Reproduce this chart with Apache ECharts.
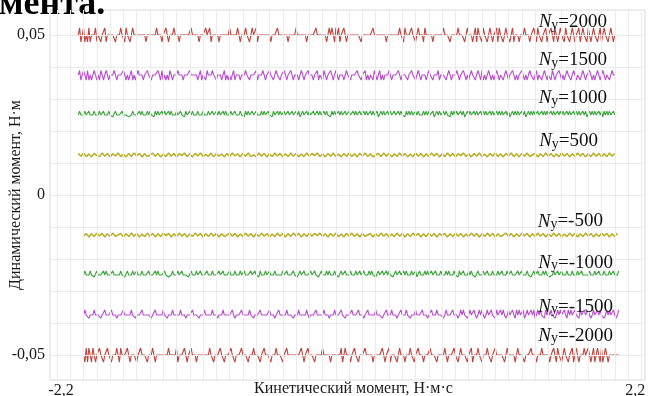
<!DOCTYPE html>
<html>
<head>
<meta charset="utf-8">
<script src="https://cdn.jsdelivr.net/npm/echarts@6/dist/echarts.min.js"></script>
<style>
  html, body { margin: 0; padding: 0; background: #fff; }
  #chart { width: 648px; height: 396px; }
</style>
</head>
<body>
<div id="chart"></div>
<script>
// ---- data ----------------------------------------------------------------
// Lateral load cases N_y and the mean dynamic moment each one settles at (Н·м)
const nyValues = [2000, 1500, 1000, 500, -500, -1000, -1500, -2000];
const meanMoment = [0.05, 0.0375, 0.025, 0.0125, -0.0125, -0.025, -0.0375, -0.05];

// Kinetic moment sampling (Н·м·с): first sample of the positive / negative runs
const kineticStartPos = -2.04;
const kineticStartNeg = -2.0;
// sample step of the pulsed runs (±1000…±2000) and of the ±500 runs
const kineticStepPulse = 0.01;
const kineticStepWave = 0.02;

// Fluctuation of the dynamic moment about its mean, in 1e-4 Н·м
const devP2000 = [
  0,22,-22,0,22,-22,0,-22,22,-22, 0,0,0,22,-20,0,0,-22,0,0,
  22,-22,0,0,0,0,0,0,-22,0, 0,0,22,0,0,-22,22,0,0,-22,
  0,22,0,0,0,0,0,0,0,0, 0,-22,0,0,0,0,0,0,0,22,
  0,0,0,-22,0,0,22,0,-22,0, 0,0,22,0,0,0,-22,0,0,0,
  0,0,0,0,0,22,0,0,0,0, 0,-22,0,0,0,0,22,0,0,22,
  -22,0,0,0,0,0,-22,0,0,0, 0,0,0,0,22,0,0,0,0,0,
  22,0,-22,0,0,0,22,0,0,-22, 0,22,0,0,22,-22,0,0,0,0,
  0,0,0,0,0,-22,0,0,0,0, 22,0,0,0,0,0,0,0,-22,0,
  0,0,0,0,22,0,0,0,0,0, 0,0,-22,0,0,0,0,0,0,22,
  0,0,0,0,0,0,0,-22,0,22, 0,22,0,-22,22,0,22,-22,0,0,
  22,0,-22,0,0,0,0,0,0,0, 0,0,0,-22,0,0,0,0,0,0,
  0,0,22,0,0,0,0,0,0,0, 0,0,-22,0,0,0,0,0,0,0,
  0,0,22,0,0,-22,22,0,0,0, 0,22,0,0,-22,0,22,0,0,0,
  -22,22,0,0,0,0,0,-22,0,0, 0,0,0,0,0,22,0,0,0,0,
  -22,0,0,0,0,0,22,0,0,0, 0,-22,0,22,0,0,0,-22,0,22,
  -22,22,0,0,-22,22,0,0,-22,0, 22,0,-22,0,0,22,-22,22,0,0,
  -22,0,22,0,0,-22,0,22,-22,0, 0,0,-22,0,0,0,22,0,0,0,
  -22,0,0,22,0,-22,22,0,0,-22, 0,0,22,-22,0,0,22,0,-22,22,
  0,-22,0,22,0,0,-22,22,0,0, -22,0,22,0,-22,0,0,22,-22,0,
  22,0,0,-22,22,0,-22,0,22,0, 0,-22,0,22,-22,0,22,0,0,-22,
  0,22,0,-22,0
];
const devP1500 = [
  0,14,-16,0,14,0,-16,14,-16,0, -16,0,14,0,-16,0,-16,14,0,-16,
  0,14,0,-16,0,0,0,14,0,-16, 0,0,0,0,14,0,-16,0,-16,0,
  14,-16,0,-16,0,14,0,0,0,-16, 0,0,14,0,0,-16,0,0,0,0,
  14,0,-16,14,-16,0,-16,0,-16,14, 0,-16,0,0,0,14,0,0,0,-16,
  0,0,0,0,14,0,0,0,0,0, -16,0,14,-16,0,0,-16,14,0,0,
  0,14,0,0,-16,0,0,0,-16,0, 14,-16,0,-16,0,-16,0,14,-16,0,
  0,0,-16,0,0,0,14,0,0,-16, 0,0,0,0,14,-16,0,0,0,14,
  0,-16,0,0,14,0,0,-16,0,14, 0,0,-16,0,0,14,0,-16,0,0,
  14,0,-16,0,0,0,-16,0,14,0, -16,0,0,14,0,0,0,-16,0,0,
  14,-16,0,0,-16,14,0,-16,0,0, 14,0,-16,0,14,0,-16,0,0,0,
  -16,0,14,0,0,-16,0,0,0,0, 14,0,0,-16,0,0,14,-16,0,-16,
  0,0,-16,14,0,-16,0,14,-16,0, -16,0,0,0,14,0,-16,0,0,0,
  0,14,0,-16,0,0,0,0,-16,0, 0,14,0,0,-16,0,14,0,-16,0,
  0,0,-16,0,14,0,0,-16,0,0, 0,14,-16,0,0,0,0,-16,0,14,
  0,-16,0,0,0,14,0,-16,0,0, 14,0,-16,0,-16,0,14,0,0,-16,
  0,14,0,-16,14,-16,0,-16,0,14, 0,-16,0,-16,0,14,0,-16,0,0,
  -16,0,14,0,-16,0,0,14,0,-16, 0,-16,0,0,14,0,-16,0,-16,0,
  14,0,0,-16,0,14,-16,0,0,-16, 0,14,0,-16,0,0,-16,14,0,-16,
  0,0,14,0,-16,0,-16,0,14,0, 0,-16,0,14,0,-16,0,0,-16,0,
  14,0,-16,0,0,14,0,-16,0,-16, 0,14,0,-16,0,14,0,-16,0,0,
  -16,0,14,0,0
];
const devP1000 = [
  0,12,0,-6,0,12,0,0,12,0, -6,0,12,0,0,0,12,0,-6,12,
  0,0,0,12,0,0,-6,0,12,0, 0,0,0,12,0,0,0,0,-6,0,
  0,12,0,0,0,0,12,0,12,0, -6,0,12,0,12,0,0,-6,12,0,
  12,0,-6,12,0,12,0,0,12,0, 12,0,-6,0,12,0,0,12,0,0,
  -6,12,0,0,12,0,12,0,0,0, 12,0,-6,0,12,0,0,0,12,0,
  0,12,0,-6,12,0,12,0,0,12, 0,12,0,-6,0,12,0,0,12,0,
  0,0,12,0,0,-6,12,0,12,0, 0,12,0,0,12,0,-6,0,12,0,
  12,0,0,12,0,0,-6,12,0,0, 12,0,12,0,0,12,0,-6,12,0,
  0,12,0,0,12,0,12,-6,0,12, 0,0,12,0,12,0,0,12,0,-6,
  12,0,12,0,0,12,0,12,0,0, -6,12,0,12,0,0,12,0,12,0,
  0,12,0,-6,12,0,0,12,0,12, 0,0,12,0,-6,12,0,12,0,0,
  12,0,12,0,0,12,-6,0,12,0, 12,0,0,12,0,12,0,-6,12,0,
  0,12,0,12,0,0,-6,12,0,12, 0,12,0,0,12,0,12,0,-6,0,
  12,0,12,0,12,0,0,12,-6,0, 12,0,12,0,0,12,0,12,0,0,
  -6,12,0,12,0,12,0,0,12,0, 12,-6,0,12,0,12,0,0,12,0,
  12,0,-6,12,0,12,0,12,0,0, 12,0,12,0,-6,12,0,12,0,12,
  0,0,12,0,12,-6,0,12,0,12, 0,12,0,0,12,0,12,-6,0,12,
  0,12,0,12,0,0,12,0,-6,12, 0,12,0,12,0,0,12,0,12,0,
  -6,12,0,12,0,12,0,0,12,0, 12,0,-6,12,0,12,0,12,0,0,
  12,0,12,-6,0,12,0,12,0,12, 0,0,12,0,12,-6,12,0,12,0,
  12,0,-6,12,0
];
const devP500 = [
  5,-4,6,-5,3,-6,5,-2,-5,6, -4,5,-6,4,-3,6,-5,2,-6,5,
  -5,6,-3,5,-6,4,-5,0,6,-4, 5,-6,3,-5,6,-4,5,-6,4,-2,
  6,-5,4,-6,5,-3,6,-5,2,-4, 6,-6,5,-4,3,-6,5,-5,6,-3,
  4,-6,5,-4,6,-5,0,-5,6,-4, 5,-6,4,-5,6,-3,5,-6,4,-5,
  6,-4,5,-6,3,-5,6,-4,5,-2, 6,-5,4,-6,5,-4,6,-5,3,-6,
  5,-4,6,-5,4,-6,5,-3,6,-5, 4,-6,0,5,-5,6,-4,5,-6,4,
  -5,6,-4,5,-6,3,-5,6,-4,5, -6,4,-5,6,-3,5,-6,4,-5,6,
  -4,5,-6,4,-2,6,-5,4,-6,5, -4,6,-5,3,-6,5,-4,6,-5,4,
  -6,5,-3,6,-5,4,-6,5,-4,6, -5,0,5,-6,4,-5,6,-4,5,-6,
  3,-5,6,-4,5,-6,4,-5,6,-3, 5,-6,4,-5,6,-4,5,-6,4,-5,
  6,-4,5
];
const devN500 = [
  -4,5,-6,4,-5,6,-3,5,-6,4, -5,6,-4,0,5,-6,4,-5,6,-4,
  5,-6,3,-5,6,-4,5,-6,4,-5, 6,-2,5,-6,4,-5,6,-4,5,-6,
  4,-5,6,-3,5,-6,4,-5,6,-4, 5,-6,4,-5,0,6,-4,5,-6,3,
  -5,6,-4,5,-6,4,-5,6,-4,5, -6,3,-5,6,-4,5,-6,4,-5,6,
  -3,5,-6,4,-5,6,-4,5,-2,6, -5,4,-6,5,-4,6,-5,3,-6,5,
  -4,6,-5,4,-6,5,-4,0,5,-6, 4,-5,6,-4,5,-6,3,-5,6,-4,
  5,-6,4,-5,6,-3,5,-6,4,-5, 6,-4,5,-6,4,-2,5,-6,4,-5,
  6,-4,5,-6,3,-5,6,-4,5,-6, 4,-5,6,-4,5,-6,4,-5,0,6,
  -4,5,-6,4,-5,6,-3,5,-6,4, -5,6,-4,5,-6,4,-5,6,-4,5,
  -6,3,-5,6,-4,5,-6,4,-5,6, -4,5,-6,4,-5,6,-3,5,-6,4,
  -5,6
];
const devN1000 = [
  0,13,0,0,0,13,0,0,-6,0, 13,0,0,0,0,13,0,13,0,0,
  0,0,13,0,0,0,0,0,13,0, 0,-6,0,13,0,0,0,13,0,0,
  13,0,0,0,13,0,-6,0,0,13, 0,0,0,0,13,0,13,0,0,0,
  0,13,0,0,-6,0,0,13,0,0, 0,13,0,0,13,0,0,0,0,-6,
  0,13,0,0,0,13,0,0,13,0, 0,0,0,13,0,-6,0,13,0,0,
  0,0,13,0,0,13,0,0,0,0, 13,0,-6,0,13,0,0,0,13,0,
  0,13,0,0,0,0,13,0,0,13, 0,0,-6,13,0,0,0,13,0,0,
  13,0,0,0,13,0,-6,0,0,0, 13,0,0,13,0,0,0,0,13,0,
  0,-6,0,13,0,0,13,0,0,0, 0,13,0,0,13,0,0,-6,0,13,
  0,0,0,13,0,13,0,0,0,13, 0,0,-6,0,13,0,0,13,0,0,
  0,13,0,0,0,13,0,-6,13,0, 0,13,0,0,0,13,0,13,0,0,
  -6,0,13,0,0,13,0,0,13,0, 13,0,0,-6,0,13,0,0,13,0,
  0,13,0,13,0,0,0,13,0,0, 13,-6,0,13,0,0,0,13,0,13,
  0,0,13,0,0,13,0,-6,0,13, 0,0,0,13,0,13,0,0,0,13,
  0,0,-6,13,0,0,13,0,0,0, 13,0,13,0,0,-6,0,13,0,0,
  0,13,0,0,13,0,0,0,13,0, -6,0,13,0,0,13,0,0,0,13,
  0,0,13,0,-6,0,0,13,0,0, 13,0,0,0,13,0,0,-6,0,13,
  0,0,13,0,0,0,13,0,13,0, 0,-6,0,0,13,0,0,13,0,0,
  13,0,0,0,13,0,-6,0,13,0, 0,0,13,0,0,13,0,0,0,-6,
  0,13,0,0,0,13,0,0,13,0, 0,0,13,0,-6,0,13,0,0,13,
  0,0,0,13
];
const devN1500 = [
  0,16,0,0,-10,0,0,0,16,0, 0,0,0,-10,0,0,16,0,0,0,
  0,16,0,0,0,-10,0,0,0,0, 16,0,0,0,0,0,16,0,0,-10,
  0,0,0,0,16,0,0,0,0,0, 0,-10,0,0,16,0,0,0,0,0,
  16,0,0,-10,0,0,0,16,0,0, 0,0,0,16,0,0,0,-10,0,0,
  0,0,16,0,0,0,0,-10,0,0, 0,16,0,0,0,0,0,16,0,0,
  0,-10,0,0,0,16,0,0,0,0, 0,0,16,0,-10,0,0,0,0,16,
  0,0,0,0,0,16,0,0,-10,0, 0,0,0,16,0,0,0,0,0,0,
  16,0,0,0,-10,0,0,16,0,0, 0,0,0,16,0,0,0,0,-10,0,
  0,0,16,0,0,0,0,0,16,0, -10,0,0,0,0,16,0,0,0,0,
  0,16,0,0,0,-10,0,0,0,16, 0,0,0,0,16,0,0,-10,0,0,
  0,0,16,0,0,0,0,16,0,0, 0,-10,0,0,16,0,0,0,0,0,
  16,0,0,0,0,-10,0,0,16,0, 0,0,16,0,0,0,-10,0,0,16,
  0,0,0,16,0,0,-10,0,0,0, 16,0,0,0,0,16,0,0,0,-10,
  0,0,16,0,0,0,16,0,0,0, 0,-10,0,16,0,0,0,0,16,0,
  0,0,-10,0,16,0,16,0,0,-10, 0,16,0,0,16,0,-10,0,16,0,
  16,0,-10,0,16,0,0,16,0,0, -10,16,0,0,16,0,16,0,-10,0,
  16,0,0,16,0,-10,16,0,16,0, 0,16,-10,0,16,0,0,16,0,16,
  -10,0,16,0,16,0,0,-10,16,0, 16,0,16,0,0,-10,0,16,0,16,
  0,0,16,0,-10,16,0,16,0,0, 16,0,0,-10,16,0,0,16,0,0,
  16,0,-10,0,16,0,0,16,0,16, 0,0,-10,0,16,0,16,0,0,16,
  0,-10,0,16
];
const devN2000 = [
  0,-22,22,-22,22,22,-22,22,0,-22, 0,0,22,0,0,-22,0,0,22,0,
  0,-22,0,0,0,22,0,-22,22,0, 0,0,0,22,0,-22,0,0,0,0,
  -22,0,0,22,0,0,0,0,-22,0, 0,0,22,0,-22,0,0,0,0,0,
  0,0,0,0,22,0,0,0,0,0, 22,-22,0,0,0,0,22,0,-22,0,
  0,22,0,0,0,-22,0,0,0,0, 0,0,0,0,0,22,0,0,-22,0,
  0,0,0,22,0,0,-22,0,0,0, 0,22,0,0,-22,0,0,0,0,22,
  0,0,0,0,-22,0,0,0,22,0, 0,0,0,-22,0,0,22,0,0,0,
  0,-22,0,0,0,22,0,0,0,0, -22,0,0,22,0,0,0,0,0,0,
  0,0,0,0,22,0,-22,0,0,22, 0,0,0,0,-22,0,0,0,0,0,
  22,0,0,0,0,0,-22,0,0,0, 0,0,0,0,22,-22,0,22,0,0,
  0,-22,0,0,22,0,0,-22,0,0, 0,0,22,0,0,0,0,0,-22,0,
  0,0,0,0,0,22,0,-22,0,0, 22,-22,0,0,0,0,-22,0,22,0,
  0,0,-22,0,0,0,22,0,0,-22, 0,0,22,0,0,0,-22,0,0,0,
  0,22,0,0,0,0,-22,0,0,0, 0,0,22,0,-22,0,0,0,0,22,
  0,0,-22,0,22,0,0,0,0,-22, 0,0,22,-22,0,0,0,22,0,0,
  -22,0,0,0,22,0,0,-22,0,0, 22,0,0,0,0,0,0,-22,0,22,
  0,0,0,0,0,-22,0,22,0,0, 0,0,-22,0,0,0,0,22,0,0,
  0,-22,0,0,0,22,0,0,0,0, 0,-22,0,0,22,0,-22,22,0,0,
  -22,0,22,0,0,-22,0,0,22,-22, 0,22,0,-22,0,0,0,22,0,0,
  22,0,-22,0,22,-22,0,22,0,-22, 22,-22,0,22,0,-22,0,0,0,0,
  0,0,0,0
];
const deviations = [devP2000, devP1500, devP1000, devP500, devN500, devN1000, devN1500, devN2000];

// Axis tick labels
const xTickValues = [-2.2, 2.2];
const yTickValues = [-0.05, 0, 0.05];

// ---- presentation ----------------------------------------------------------
const DEV_UNIT = 1e-4;
const SERIF = '"Liberation Serif", "Times New Roman", serif';
const colors = ['#c0443e', '#bb4ccf', '#3aa53a', '#b5ae25', '#b5ae25', '#3aa53a', '#bb4ccf', '#c0443e'];
const widths = [1.1, 1.1, 1.1, 1.5, 1.5, 1.1, 1.1, 1.1];
// where each N_y caption sits: right edge (kinetic moment) and lift above the line (px)
const captionRight = [1.942, 1.942, 1.942, 1.874, 1.911, 1.987, 1.987, 1.987];
const captionLift = [-13, -15, -17, -14, -14, -13, -9, -20];

const comma = v => (v === 0 ? '0' : String(v).replace('.', ','));

const grayGrid = { color: '#ebebeb', width: 1, type: 'solid' };
const gridLines = [];
for (let k = -22; k <= 22; k++) gridLines.push({ xAxis: +(k * 0.1).toFixed(1) });
for (let k = -11; k <= 11; k++) gridLines.push({ yAxis: +(k * 0.005).toFixed(3) });

const captionRich = {
  n: { fontFamily: SERIF, fontSize: 19, fontStyle: 'italic', color: '#111', lineHeight: 20, verticalAlign: 'bottom' },
  s: { fontFamily: SERIF, fontSize: 14, color: '#111', lineHeight: 5, verticalAlign: 'bottom' },
  t: { fontFamily: SERIF, fontSize: 19, color: '#111', lineHeight: 20, verticalAlign: 'bottom' }
};

const series = [{
  type: 'line',
  data: [],
  silent: true,
  z: 1,
  markLine: {
    silent: true,
    symbol: ['none', 'none'],
    label: { show: false },
    lineStyle: grayGrid,
    animation: false,
    data: gridLines
  }
}];

nyValues.forEach((ny, idx) => {
  const x0 = ny > 0 ? kineticStartPos : kineticStartNeg;
  const step = Math.abs(ny) === 500 ? kineticStepWave : kineticStepPulse;
  const pts = deviations[idx].map((d, i) => [+(x0 + i * step).toFixed(3), meanMoment[idx] + d * DEV_UNIT]);
  series.push({
    type: 'line',
    name: 'Ny=' + ny,
    data: pts,
    showSymbol: false,
    symbol: 'none',
    sampling: null,
    z: 3,
    lineStyle: { color: colors[idx], width: widths[idx] },
    markPoint: {
      silent: true,
      symbol: 'circle',
      symbolSize: 0,
      animation: false,
      label: {
        show: true,
        position: 'left',
        distance: 0,
        offset: [0, captionLift[idx]],
        formatter: '{n|N}{s|y}{t|=' + ny + '}',
        rich: captionRich
      },
      data: [{ coord: [captionRight[idx], meanMoment[idx]] }]
    }
  });
});

const chart = echarts.init(document.getElementById('chart'), null, { renderer: 'canvas' });
chart.setOption({
  animation: false,
  backgroundColor: '#ffffff',
  grid: {
    left: 50, right: 3, top: 10, bottom: 16,
    outerBoundsMode: 'none',
    containLabel: false,
    show: true, borderColor: '#dadada', borderWidth: 1, backgroundColor: '#ffffff'
  },
  graphic: [{
    type: 'text',
    left: -1,
    top: -13,
    silent: true,
    style: { text: 'мента.', font: 'bold 36px ' + SERIF, fill: '#000' }
  }],
  xAxis: {
    type: 'value',
    min: -2.2527,
    max: 2.2277,
    name: 'Кинетический момент, Н·м·с',
    nameLocation: 'middle',
    nameGap: 1,
    nameMoveOverlap: false,
    nameTextStyle: { fontFamily: SERIF, fontSize: 16, color: '#1a1a1a', padding: [0, 0, 0, 12] },
    axisLine: { show: false },
    axisTick: { show: false },
    splitLine: { show: false },
    axisLabel: {
      customValues: xTickValues,
      margin: 3,
      formatter: v => (v < 0 ? '{l|' + comma(v) + '}' : '{r|' + comma(v) + '}'),
      rich: {
        l: { fontFamily: SERIF, fontSize: 16, color: '#1a1a1a', padding: [0, 0, 0, 8] },
        r: { fontFamily: SERIF, fontSize: 16, color: '#1a1a1a', padding: [0, 12, 0, 0] }
      }
    }
  },
  yAxis: {
    type: 'value',
    min: -0.0578,
    max: 0.0578,
    name: 'Динамический момент, Н·м',
    nameLocation: 'middle',
    nameRotate: 90,
    nameGap: 26,
    nameMoveOverlap: false,
    nameTextStyle: { fontFamily: SERIF, fontSize: 16, color: '#1a1a1a' },
    axisLine: { show: false },
    axisTick: { show: false },
    splitLine: { show: false },
    axisLabel: {
      customValues: yTickValues,
      margin: 5,
      fontFamily: SERIF,
      fontSize: 16,
      color: '#1a1a1a',
      formatter: v => comma(v)
    }
  },
  series: series
});
</script>
</body>
</html>
